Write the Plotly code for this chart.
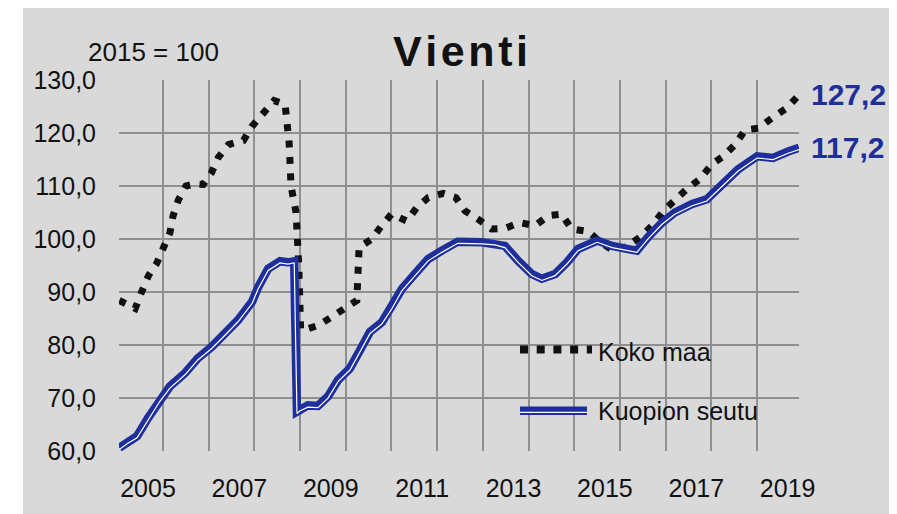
import plotly.graph_objects as go

# ---- data (decimal years, index 2015 = 100) ----
koko_x = [2004.37, 2004.72, 2004.86, 2005.01, 2005.19, 2005.36, 2005.48, 2005.55, 2005.66, 2005.83,
          2006.03, 2006.21, 2006.39, 2006.54, 2006.76, 2007.09, 2007.27, 2007.52, 2007.76, 2008.00,
          2008.09, 2008.13, 2008.24, 2008.30, 2008.34, 2008.40, 2008.73, 2009.02, 2009.31, 2009.57,
          2009.62, 2009.90, 2010.11, 2010.33, 2010.66, 2010.88, 2011.13, 2011.46, 2011.74, 2011.94,
          2012.23, 2012.52, 2012.81, 2013.14, 2013.47, 2013.76, 2014.05, 2014.27, 2014.64, 2014.86,
          2015.18, 2015.46, 2015.81, 2016.06, 2016.28, 2016.53, 2016.79, 2017.08, 2017.34, 2017.59,
          2017.85, 2018.07, 2018.36, 2018.65, 2018.98, 2019.25]
koko_y = [88.4, 86.9, 90.0, 93.1, 95.4, 98.4, 101.2, 104.4, 107.3, 110.0,
          110.4, 110.3, 112.5, 115.4, 117.8, 118.6, 121.2, 123.7, 126.1, 125.4,
          118.0, 110.0, 105.0, 95.0, 83.0, 82.8, 83.7, 85.3, 86.9, 88.4,
          98.4, 100.0, 102.5, 104.7, 103.4, 105.9, 107.8, 108.6, 107.8, 105.3,
          103.7, 101.9, 102.0, 103.1, 102.5, 104.4, 104.7, 101.9, 101.4, 99.7,
          97.8, 98.5, 100.6, 102.8, 105.3, 107.5, 109.4, 111.3, 114.1, 115.6,
          117.8, 120.6, 120.9, 122.8, 124.7, 127.2]

kuopio_x = [2004.37, 2004.56, 2004.76, 2005.00, 2005.26, 2005.48, 2005.81, 2006.09, 2006.40, 2006.69,
            2006.97, 2007.28, 2007.41, 2007.63, 2007.89, 2008.06, 2008.20, 2008.26, 2008.33, 2008.50,
            2008.72, 2008.94, 2009.16, 2009.42, 2009.64, 2009.86, 2010.12, 2010.34, 2010.56, 2010.84,
            2011.13, 2011.43, 2011.78, 2012.31, 2012.59, 2012.81, 2013.10, 2013.40, 2013.62, 2013.91,
            2014.17, 2014.41, 2014.83, 2015.16, 2015.51, 2015.70, 2015.94, 2016.25, 2016.53, 2016.91,
            2017.23, 2017.56, 2017.91, 2018.33, 2018.68, 2019.01, 2019.25]
kuopio_y = [60.6, 61.8, 62.8, 66.2, 69.7, 72.2, 74.7, 77.5, 79.7, 82.2,
            84.7, 88.2, 90.9, 94.4, 95.8, 95.6, 95.8, 67.4, 67.9, 68.6,
            68.5, 70.3, 73.4, 75.6, 79.0, 82.5, 84.3, 87.2, 90.6, 93.4,
            96.2, 97.8, 99.5, 99.4, 99.2, 98.7, 95.9, 93.4, 92.5, 93.4,
            95.6, 98.1, 99.7, 98.7, 98.1, 97.8, 100.3, 103.1, 105.0, 106.6,
            107.5, 110.3, 113.1, 115.6, 115.3, 116.5, 117.2]

year_ticks = [2005, 2007, 2009, 2011, 2013, 2015, 2017, 2019]
year_labels = ["2005", "2007", "2009", "2011", "2013", "2015", "2017", "2019"]
series_names = ["Koko maa", "Kuopion seutu"]
title_text = "Vienti"
base_text = "2015 = 100"

# ---- styles ----
BLUE = "#1e2f9c"
BLACK = "#111111"
GRID = "#8f8f8f"
BG = "#d9d9d9"
FONT = "Liberation Sans, Arial, sans-serif"

OFF = 8  # page body margin
W, H = 889, 506
L, R, T, B = 111, 98, 72, 61
PW, PH = W - L - R, H - T - B


def px_x(p):
    return (p - OFF - L) / PW


def px_y(p):
    return (H - B - (p - OFF)) / PH


fig = go.Figure()

fig.add_trace(go.Scatter(x=koko_x, y=koko_y, mode="lines", name=series_names[0],
                         line=dict(color=BLACK, width=7, dash="7px,9.5px"),
                         showlegend=False))
fig.add_trace(go.Scatter(x=kuopio_x, y=kuopio_y, mode="lines", name=series_names[1],
                         line=dict(color=BLUE, width=8.5), showlegend=False))
fig.add_trace(go.Scatter(x=kuopio_x, y=[v - 0.32 for v in kuopio_y], mode="lines",
                         line=dict(color="white", width=1.2), showlegend=False,
                         hoverinfo="skip"))

shapes = [
    dict(type="rect", xref="paper", yref="paper", x0=px_x(23), x1=px_x(W + OFF + 10),
         y0=px_y(H + OFF + 10), y1=px_y(5),
         fillcolor=BG, line=dict(width=0), layer="below"),
    # legend samples
    dict(type="line", xref="paper", yref="paper", x0=px_x(520), x1=px_x(592), y0=px_y(351), y1=px_y(351),
         line=dict(color=BLACK, width=8, dash="8px,8.7px")),
    dict(type="line", xref="paper", yref="paper", x0=px_x(520), x1=px_x(587), y0=px_y(412.5), y1=px_y(412.5),
         line=dict(color=BLUE, width=8.5)),
    dict(type="line", xref="paper", yref="paper", x0=px_x(520), x1=px_x(587), y0=px_y(414.2), y1=px_y(414.2),
         line=dict(color="white", width=1.2)),
]


def fmt(v):
    return f"{v:.1f}".replace(".", ",")


annotations = [
    dict(text="<b>" + "\u200a".join(title_text) + "</b>", xref="paper", yref="paper",
         x=px_x(460), y=px_y(51), xanchor="center", yanchor="middle", showarrow=False,
         font=dict(family=FONT, size=43, color=BLACK)),
    dict(text=base_text, xref="paper", yref="paper", x=px_x(153.5), y=px_y(51.5),
         xanchor="center", yanchor="middle", showarrow=False,
         font=dict(family=FONT, size=26, color=BLACK)),
    dict(text="<b>" + fmt(koko_y[-1]) + "</b>", xref="paper", yref="y", x=1, y=koko_y[-1],
         xanchor="left", yanchor="middle", xshift=10, showarrow=False,
         font=dict(family=FONT, size=30, color=BLUE)),
    dict(text="<b>" + fmt(kuopio_y[-1]) + "</b>", xref="paper", yref="y", x=1, y=kuopio_y[-1],
         xanchor="left", yanchor="middle", xshift=10, showarrow=False,
         font=dict(family=FONT, size=30, color=BLUE)),
    dict(text=series_names[0], xref="paper", yref="paper", x=px_x(596), y=px_y(353),
         xanchor="left", yanchor="middle", showarrow=False,
         font=dict(family=FONT, size=25, color=BLACK)),
    dict(text=series_names[1], xref="paper", yref="paper", x=px_x(596), y=px_y(413),
         xanchor="left", yanchor="middle", showarrow=False,
         font=dict(family=FONT, size=25, color=BLACK)),
]

fig.update_layout(
    width=W, height=H,
    margin=dict(l=L, r=R, t=T, b=B, pad=0),
    paper_bgcolor="white", plot_bgcolor="white",
    separators=", ",
    shapes=shapes, annotations=annotations,
    font=dict(family=FONT, size=25, color=BLACK),
    xaxis=dict(range=[2004.365, 2019.248], tickvals=year_ticks, ticktext=year_labels,
               showgrid=False, zeroline=False, showline=False, ticks="",
               ticklabelstandoff=20,
               tickfont=dict(family=FONT, size=25, color=BLACK),
               minor=dict(tick0=2005.328, dtick=1, showgrid=True, gridcolor=GRID, gridwidth=2)),
    yaxis=dict(range=[60, 130], dtick=10, tick0=60, tickformat=".1f",
               showgrid=True, gridcolor=GRID, gridwidth=2, zeroline=False, showline=False,
               ticks="", ticklabelstandoff=22,
               tickfont=dict(family=FONT, size=25, color=BLACK)),
)

fig.write_html("out.html")
